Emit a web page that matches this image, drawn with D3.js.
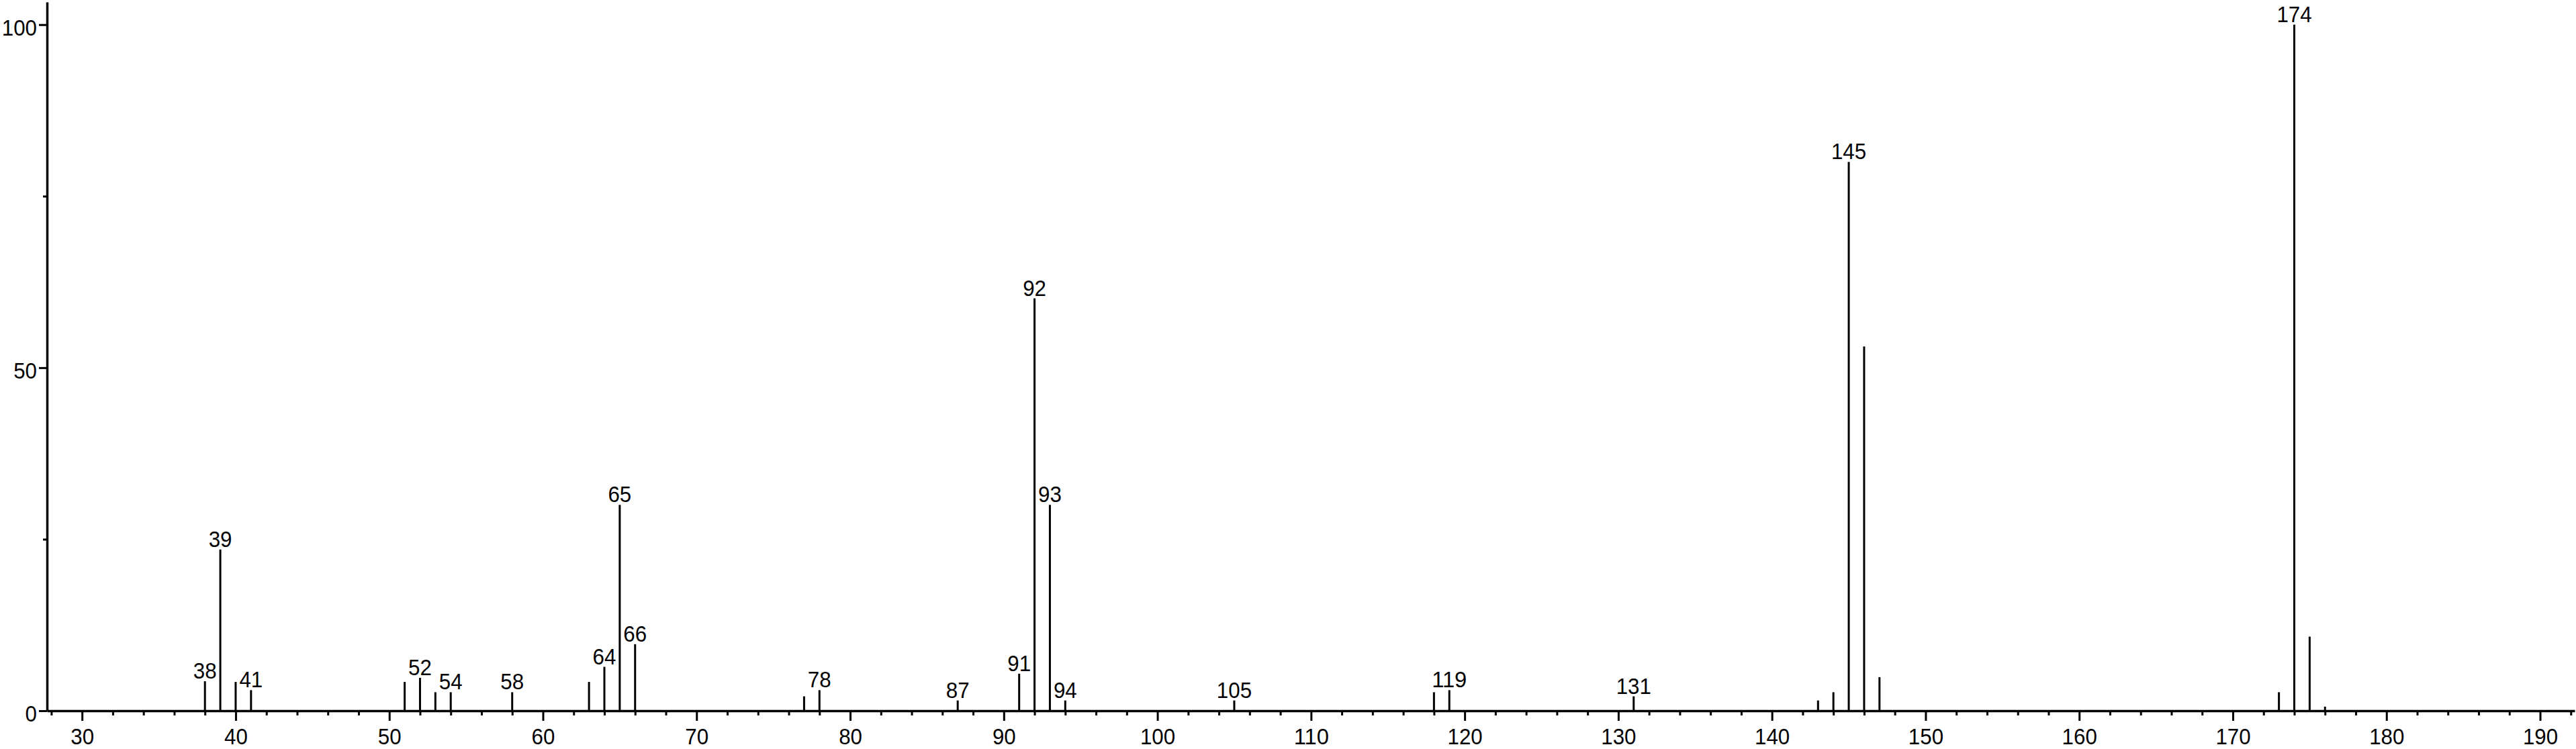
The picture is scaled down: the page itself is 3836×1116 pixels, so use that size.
<!DOCTYPE html>
<html>
<head>
<meta charset="utf-8">
<script src="https://cdn.jsdelivr.net/npm/d3@7"></script>
<style>
  body { margin: 0; background: #fff; }
  text { font-family: "Liberation Sans", Arial, sans-serif; font-size: 34px; fill: #000; }
</style>
</head>
<body>
<script>
// mass spectrum: m/z and relative intensity
var mz = [38, 39, 40, 41, 51, 52, 53, 54, 58, 63, 64, 65, 66, 77, 78, 87, 91, 92, 93, 94,
          105, 118, 119, 131, 143, 144, 145, 146, 147, 173, 174, 175, 176];
var intensity = [4.3, 23.5, 4.2, 3.0, 4.2, 4.8, 2.7, 2.7, 2.7, 4.2, 6.4, 30, 9.7, 2.1, 3.0, 1.5, 5.4, 60.1, 30, 1.5,
                 1.5, 2.7, 3.0, 2.1, 1.5, 2.7, 80, 53.1, 4.9, 2.7, 100, 10.8, 0.6];
// peaks that carry a label
var labeled = [38, 39, 41, 52, 54, 58, 64, 65, 66, 78, 87, 91, 92, 93, 94, 105, 119, 131, 145, 174];

var xMajor = [30, 40, 50, 60, 70, 80, 90, 100, 110, 120, 130, 140, 150, 160, 170, 180, 190];
var xMinor = d3.range(28, 193, 2).filter(d => d % 10 !== 0);
var yMajor = [0, 50, 100];
var yMinor = [25, 75];

var W = 3836, H = 1116;
var digitW = 17.4; // labels are a bit narrower than plain Liberation Sans

var svg = d3.select("body").append("svg")
            .attr("width", W)
            .attr("height", H);

svg.append("rect").attr("width", W).attr("height", H).attr("fill", "#fff");

var xScale = d3.scaleLinear().domain([27.72, 192.25]).range([70, 3834]);
var yScale = d3.scaleLinear().domain([0, 103.3]).range([1059, 3]);

var peaks = mz.map((m, i) => ({ mz: m, y: intensity[i], label: labeled.indexOf(m) >= 0 }));

// peaks
svg.append("g")
   .selectAll("line")
   .data(peaks)
   .enter()
   .append("line")
   .attr("x1", d => xScale(d.mz))
   .attr("x2", d => xScale(d.mz))
   .attr("y1", yScale(0))
   .attr("y2", d => yScale(d.y))
   .attr("stroke", "#000")
   .attr("stroke-width", 3);

// peak labels
svg.append("g")
   .selectAll("text")
   .data(peaks.filter(d => d.label))
   .enter()
   .append("text")
   .attr("x", d => xScale(d.mz))
   .attr("y", d => yScale(d.y) - 4)
   .attr("text-anchor", "middle")
   .attr("textLength", d => String(d.mz).length * digitW)
   .attr("lengthAdjust", "spacingAndGlyphs")
   .text(d => d.mz);

// x axis, minor then major ticks
var xAxisMinor = d3.axisBottom(xScale).tickValues(xMinor).tickSize(7).tickSizeOuter(0).tickFormat(() => "");
var xAxis = d3.axisBottom(xScale).tickValues(xMajor).tickSize(15).tickSizeOuter(0).tickPadding(11);

svg.append("g")
   .attr("transform", "translate(0," + yScale(0) + ")")
   .call(xAxisMinor)
   .call(g => g.select(".domain").remove());

var gx = svg.append("g")
   .attr("class", "x axis")
   .attr("transform", "translate(0," + yScale(0) + ")")
   .call(xAxis);

// y axis
var yAxisMinor = d3.axisLeft(yScale).tickValues(yMinor).tickSize(6).tickSizeOuter(0).tickFormat(() => "");
var yAxis = d3.axisLeft(yScale).tickValues(yMajor).tickSize(12).tickSizeOuter(0).tickPadding(3);

svg.append("g")
   .attr("transform", "translate(70,0)")
   .call(yAxisMinor)
   .call(g => g.select(".domain").remove());

var gy = svg.append("g")
   .attr("class", "y axis")
   .attr("transform", "translate(70,0)")
   .call(yAxis);

gy.selectAll(".tick text").attr("dy", "0.45em");

svg.selectAll(".domain").attr("stroke-width", 3.5);
svg.selectAll(".tick line").attr("stroke-width", 3);
svg.selectAll(".tick text")
   .attr("fill", "#000")
   .attr("textLength", d => String(d).length * digitW)
   .attr("lengthAdjust", "spacingAndGlyphs")
   .style("font-family", "'Liberation Sans', Arial, sans-serif")
   .style("font-size", "34px");
</script>
</body>
</html>
